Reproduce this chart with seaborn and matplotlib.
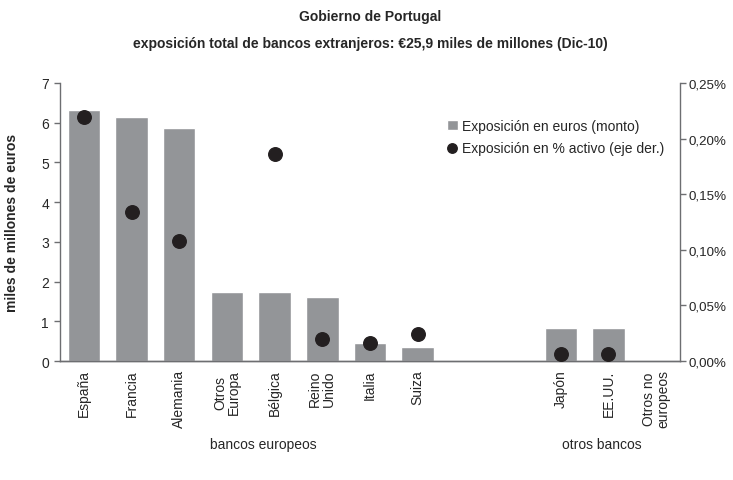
import numpy as np
import matplotlib.pyplot as plt
import pandas as pd
import seaborn as sns

# Datos
categorias = ["España", "Francia", "Alemania", "Otros\nEuropa", "Bélgica",
              "Reino\nUnido", "Italia", "Suiza", " ", "  ",
              "Japón", "EE.UU.", "Otros no\neuropeos"]
monto = [6.32, 6.14, 5.87, 1.75, 1.73, 1.61, 0.45, 0.35, np.nan, np.nan,
         0.82, 0.82, 0.0]
pct_activo = [0.219, 0.134, 0.108, np.nan, 0.186, 0.020, 0.0165, 0.024,
              np.nan, np.nan, 0.0066, 0.006, np.nan]
grupos = ["bancos europeos", "otros bancos"]

sns.set_theme(style="white")
plt.rcParams["font.family"] = ["Liberation Sans", "DejaVu Sans"]

df = pd.DataFrame({"cat": categorias, "monto": monto, "pct": pct_activo})
pos = np.arange(len(categorias))

fig = plt.figure(figsize=(7.33, 4.81), dpi=100)
ax = fig.add_axes([60 / 733, 1 - 362 / 481, 620 / 733, 278 / 481])

sns.barplot(data=df, x="cat", y="monto", order=categorias, color="#939598",
            saturation=1, width=0.68, ax=ax, label="Exposición en euros (monto)")
ax.set_xlim(-0.5, len(categorias) - 0.5)
ax.set_ylim(0, 7)
ax.set_yticks(range(0, 8))
ax.set_xlabel("")
ax.set_ylabel("miles de millones de euros", fontsize=10, fontweight="bold",
              labelpad=16)
ax.set_xticks(pos)
ax.set_xticklabels(categorias, rotation=90, fontsize=10, va="top",
                   linespacing=1.0)

ax2 = ax.twinx()
ax2.scatter(pos, df["pct"], s=95, color="#231f20", zorder=3,
            label="Exposición en % activo (eje der.)")
ax2.set_ylim(0, 0.25)
ax2.set_yticks(np.arange(0, 0.26, 0.05))
ax2.set_yticklabels([f"{v:.2f}%".replace(".", ",") for v in np.arange(0, 0.26, 0.05)])

for a in (ax, ax2):
    a.spines["top"].set_visible(False)
    for s in a.spines.values():
        s.set_color("#6d6e71")
        s.set_linewidth(1.0)
    a.tick_params(axis="y", labelsize=10, length=4, width=1, color="#6d6e71",
                  direction="out", pad=4)
ax.spines["right"].set_visible(False)
ax2.spines["left"].set_visible(False)
ax.tick_params(axis="x", length=0, pad=6)
ax.tick_params(axis="y", left=True)
ax2.tick_params(axis="y", right=True, pad=2, labelsize=9.6)

# leyenda
h1, l1 = ax.get_legend_handles_labels()
h2, l2 = ax2.get_legend_handles_labels()
ax.legend(h1 + h2, l1 + l2, loc="upper left", bbox_to_anchor=(0.615, 0.89),
          frameon=False, fontsize=10, handlelength=0.8, handletextpad=0.3,
          labelspacing=0.55, borderaxespad=0, markerscale=0.7)

# títulos
fig.text(0.505, 0.965, "Gobierno de Portugal", ha="center", va="center",
         fontsize=10, fontweight="bold")
fig.text(0.505, 0.908,
         "exposición total de bancos extranjeros: €25,9 miles de millones (Dic-10)",
         ha="center", va="center", fontsize=10, fontweight="bold")

# etiquetas de grupo
fig.text(263 / 733, 1 - 445 / 481, grupos[0], ha="center", va="center",
         fontsize=10)
fig.text(602 / 733, 1 - 445 / 481, grupos[1], ha="center", va="center",
         fontsize=10)

fig.savefig("out.png", dpi=100)
